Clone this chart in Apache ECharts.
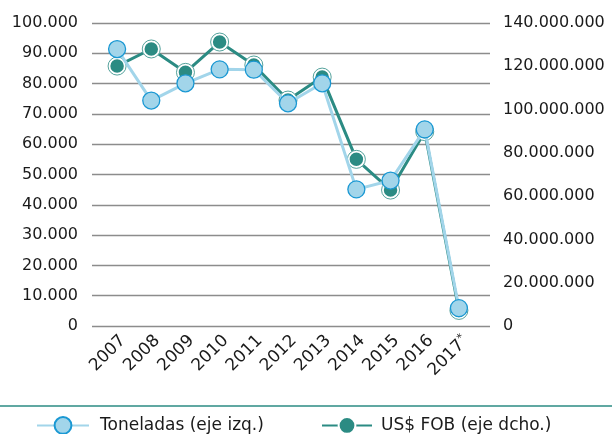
<!DOCTYPE html>
<html>
<head>
<meta charset="utf-8">
<script src="https://cdn.jsdelivr.net/npm/echarts@6/dist/echarts.min.js"></script>
<style>
  html, body { margin: 0; padding: 0; background: #fff; }
  #chart { width: 612px; height: 434px; }
</style>
</head>
<body>
<div id="chart"></div>
<script>
const years = ["2007", "2008", "2009", "2010", "2011", "2012", "2013", "2014", "2015", "2016", "2017*"];
const toneladas = [91400, 74400, 80100, 84700, 84600, 73500, 80100, 45100, 48000, 64900, 5900];
const usdFob = [120100000, 128000000, 117200000, 131200000, 120600000, 104400000, 115000000, 77000000, 62800000, 89800000, 7200000];

const NAME_T = "Toneladas (eje izq.)";
const NAME_U = "US$ FOB (eje dcho.)";
const FONT = "DejaVu Sans";
const LIGHT = "#a2d5ea";
const LIGHT_BORDER = "#1a98d3";
const TEAL = "#2b8b83";

// thousands with dots
const fmt = (v) => String(v).replace(/\B(?=(\d{3})+(?!\d))/g, ".");

const chart = echarts.init(document.getElementById("chart"));

const option = {
  animation: false,
  grid: [
    // wide grid: only the gridlines and left labels
    { left: 92, right: 122, top: 23, bottom: 108 },
    // data grid
    { left: 100, right: 136, top: 23, bottom: 108 },
  ],
  xAxis: [
    { gridIndex: 0, type: "category", data: years, show: false },
    {
      gridIndex: 1,
      type: "category",
      data: years,
      axisLine: { show: false },
      axisTick: { show: false },
      axisLabel: {
        rotate: 45,
        margin: 6,
        interval: 0,
        verticalAlign: "top",
        color: "#1a1a1a",
        fontFamily: FONT,
        fontSize: 17,
        // small raised asterisk on the provisional year
        formatter: (v) => (v.endsWith("*") ? v.slice(0, -1) + "{sup|*}" : v),
        rich: {
          sup: { fontFamily: FONT, fontSize: 11, color: "#1a1a1a", verticalAlign: "top", padding: [0, 0, 8, 0] },
        },
      },
    },
  ],
  yAxis: [
    {
      gridIndex: 0,
      type: "value",
      min: 0,
      max: 100000,
      interval: 10000,
      axisLine: { show: false },
      axisTick: { show: false },
      splitLine: { lineStyle: { color: "#8c8c8c", width: 1.3 } },
      axisLabel: {
        margin: 14,
        color: "#1a1a1a",
        fontFamily: FONT,
        fontSize: 16,
        formatter: fmt,
      },
    },
    {
      gridIndex: 1,
      type: "value",
      min: 0,
      max: 100000,
      interval: 10000,
      show: false,
    },
    {
      gridIndex: 1,
      type: "value",
      position: "right",
      min: 0,
      max: 140000000,
      interval: 20000000,
      axisLine: { show: false },
      axisTick: { show: false },
      splitLine: { show: false },
      axisLabel: {
        margin: 27,
        color: "#1a1a1a",
        fontFamily: FONT,
        fontSize: 16,
        formatter: fmt,
      },
    },
  ],
  legend: [
    {
      data: [NAME_T],
      left: 31,
      top: 411,
      itemWidth: 52,
      itemHeight: 21,
      textStyle: { fontFamily: FONT, fontSize: 17, color: "#1a1a1a", padding: [0, 0, 0, 6] },
    },
    {
      data: [NAME_U],
      left: 316,
      top: 411,
      itemWidth: 50,
      itemHeight: 21,
      textStyle: { fontFamily: FONT, fontSize: 17, color: "#1a1a1a", padding: [0, 0, 0, 4] },
    },
  ],
  graphic: [
    {
      type: "line",
      shape: { x1: 0, y1: 406, x2: 612, y2: 406 },
      style: { stroke: TEAL, lineWidth: 1.5 },
    },
  ],
  series: [
    {
      name: "halo",
      type: "scatter",
      xAxisIndex: 1,
      yAxisIndex: 2,
      data: usdFob,
      symbolSize: 18,
      z: 3,
      silent: true,
      itemStyle: { color: "transparent", borderColor: TEAL, borderWidth: 1 },
    },
    {
      name: NAME_U,
      type: "line",
      xAxisIndex: 1,
      yAxisIndex: 2,
      data: usdFob,
      symbol: "circle",
      symbolSize: 16,
      z: 2,
      lineStyle: { color: TEAL, width: 3 },
      itemStyle: { color: TEAL, borderColor: "#fff", borderWidth: 2.5 },
    },
    {
      name: NAME_T,
      type: "line",
      xAxisIndex: 1,
      yAxisIndex: 1,
      data: toneladas,
      symbol: "circle",
      symbolSize: 17,
      z: 4,
      lineStyle: { color: LIGHT, width: 3 },
      itemStyle: { color: LIGHT, borderColor: LIGHT_BORDER, borderWidth: 1.3 },
    },
  ],
};

chart.setOption(option);
</script>
</body>
</html>
